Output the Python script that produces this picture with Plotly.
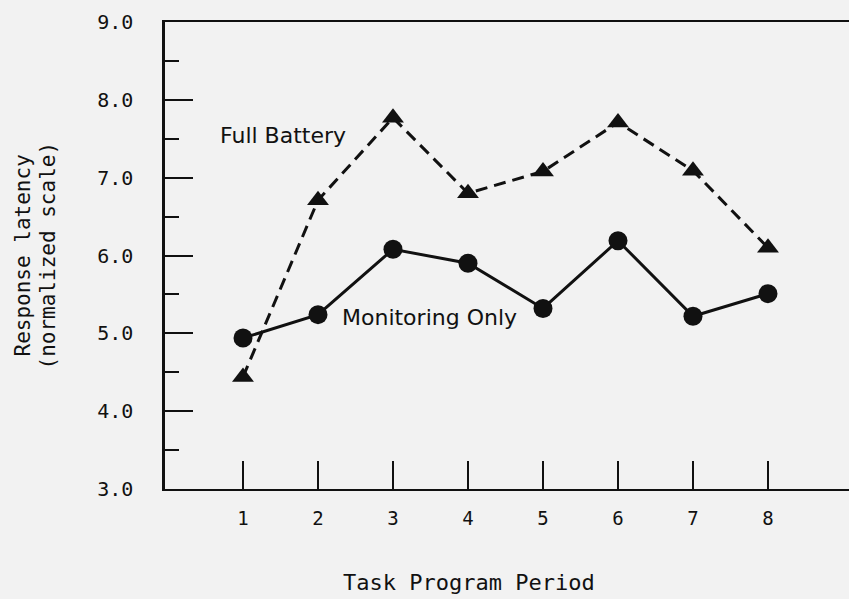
import plotly.graph_objects as go

periods = [1, 2, 3, 4, 5, 6, 7, 8]
full_battery = [4.44, 6.71, 7.77, 6.80, 7.08, 7.71, 7.09, 6.10]
monitoring_only = [4.94, 5.24, 6.08, 5.90, 5.32, 6.19, 5.22, 5.51]
y_ticks = [3, 4, 5, 6, 7, 8, 9]
y_tick_labels = ["3.0", "4.0", "5.0", "6.0", "7.0", "8.0", "9.0"]
x_tick_labels = ["1", "2", "3", "4", "5", "6", "7", "8"]

ink = "#111111"
bg = "#f2f2f2"

fig = go.Figure()
fig.add_trace(go.Scatter(
    x=periods, y=full_battery, mode="lines+markers", name="Full Battery",
    line=dict(color=ink, width=3, dash="12px,7px"),
    marker=dict(symbol="triangle-up", size=19, color=ink),
))
fig.add_trace(go.Scatter(
    x=periods, y=monitoring_only, mode="lines+markers", name="Monitoring Only",
    line=dict(color=ink, width=3),
    marker=dict(symbol="circle", size=19, color=ink),
))

fig.add_annotation(x=1.53, y=7.54, xref="x", yref="y", text="Full Battery",
                   showarrow=False, font=dict(family="DejaVu Sans", size=22, color=ink),
                   xanchor="center", yanchor="middle")
fig.add_annotation(x=3.48, y=5.2, xref="x", yref="y", text="Monitoring Only",
                   showarrow=False, font=dict(family="DejaVu Sans", size=22, color=ink),
                   xanchor="center", yanchor="middle")

fig.add_annotation(x=0, y=0.5, xref="paper", yref="paper", xshift=-143, xanchor="center",
                   text="Response latency", textangle=-90, showarrow=False,
                   font=dict(family="DejaVu Sans Mono", size=21, color=ink))
fig.add_annotation(x=0, y=0.5, xref="paper", yref="paper", xshift=-118, xanchor="center",
                   text="(normalized scale)", textangle=-90, showarrow=False,
                   font=dict(family="DejaVu Sans Mono", size=21, color=ink))
fig.add_annotation(x=4.01, y=0, xref="x", yref="paper", yshift=-93,
                   xanchor="center", yanchor="middle",
                   text="Task Program Period", showarrow=False,
                   font=dict(family="DejaVu Sans Mono", size=22, color=ink))

fig.update_layout(
    width=849, height=599,
    margin=dict(l=165, r=0, t=22, b=110),
    paper_bgcolor=bg, plot_bgcolor=bg,
    showlegend=False,
    font=dict(family="DejaVu Sans Mono", color=ink),
    xaxis=dict(
        range=[-0.04, 9.08], tickvals=periods, ticktext=x_tick_labels,
        ticks="inside", ticklen=28, tickwidth=2, tickcolor=ink,
        showline=True, linecolor=ink, linewidth=2, mirror=True,
        showgrid=False, zeroline=False,
        tickfont=dict(family="DejaVu Sans Mono", size=19, color=ink),
        ticklabelstandoff=11,
    ),
    yaxis=dict(
        range=[3, 9], tickvals=y_ticks, ticktext=y_tick_labels,
        ticks="inside", ticklen=28, tickwidth=2, tickcolor=ink,
        minor=dict(ticks="inside", ticklen=14, tickwidth=2, tickcolor=ink, dtick=0.5, showgrid=False),
        showline=True, linecolor=ink, linewidth=2.5, mirror=False,
        showgrid=False, zeroline=False,
        tickfont=dict(family="DejaVu Sans Mono", size=20, color=ink),
        ticklabelstandoff=25,
    ),
)

fig.write_html("out.html", config={"displayModeBar": False},
               post_script="document.body.style.margin='0';document.body.style.background='#f2f2f2';")
